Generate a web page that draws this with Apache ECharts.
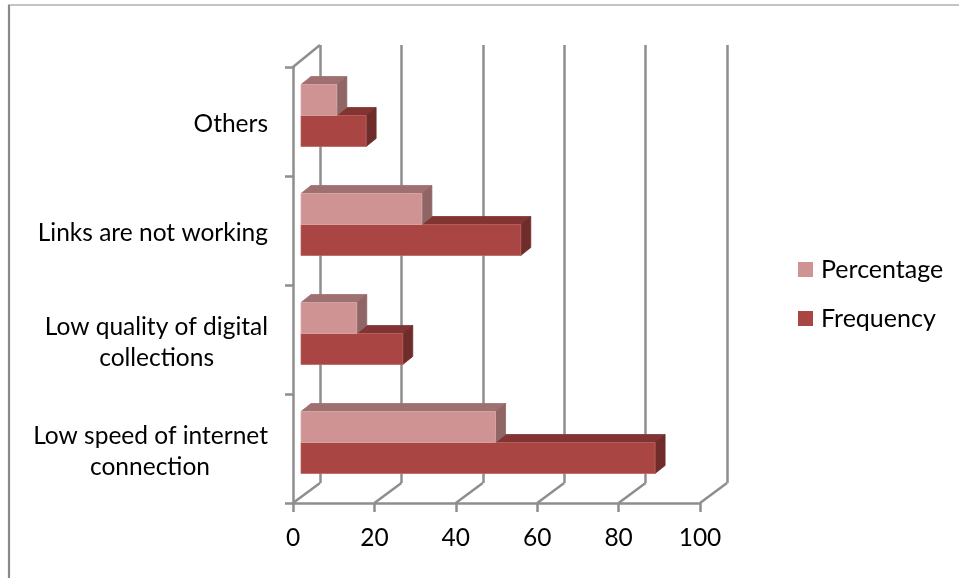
<!DOCTYPE html>
<html>
<head>
<meta charset="utf-8">
<style>html,body{margin:0;padding:0;background:#fff}#c{width:959px;height:578px}</style>
<script src="https://cdn.jsdelivr.net/npm/echarts@6/dist/echarts.min.js"></script>
</head>
<body>
<div id="c"></div>
<script>
const categories = ['Low speed of internet connection', 'Low quality of digital collections', 'Links are not working', 'Others'];
const frequency = [87, 25, 54, 16];
const percentage = [47.8, 13.7, 29.7, 8.8];
const xTicks = [0, 20, 40, 60, 80, 100];

const FONT = 'Lato, "Open Sans", sans-serif';
const AXIS = '#8e8e8e';
const LW = 2.5;
const LABEL = 24.5;
const shades = {
  Frequency: { front: '#A94542', top: '#813432', side: '#6E2C2A', edge: '#B86563' },
  Percentage: { front: '#D09393', top: '#9F7070', side: '#8F6665', edge: '#DAABAB' }
};

function barItem(name, dir) {
  return function (params, api) {
    const p = api.coord([api.value(0), api.value(1)]);
    const o = api.coord([0, api.value(1)]);
    const s = shades[name];
    const h = 31, sx = 8, sy = -6, dx = 10, dy = -8;
    const x0 = o[0] + sx, x1 = p[0] + sx;
    const yc = p[1] + sy;
    const yt = dir < 0 ? yc - h : yc;
    const yb = yt + h;
    const poly = (pts, fill, stroke) => ({
      type: 'polygon', shape: { points: pts },
      style: { fill: fill, stroke: stroke || fill, lineWidth: 0.8 }
    });
    return {
      type: 'group',
      children: [
        poly([[x0, yt], [x0 + dx, yt + dy], [x1 + dx, yt + dy], [x1, yt]], s.top),
        poly([[x1, yt], [x1 + dx, yt + dy], [x1 + dx, yb + dy], [x1, yb]], s.side),
        poly([[x0, yt], [x1, yt], [x1, yb], [x0, yb]], s.front, s.edge)
      ]
    };
  };
}

function depthItem(params, api) {
  const v = api.value(0);
  const bottom = params.coordSys.y + params.coordSys.height;
  const x = api.coord([v, 0])[0];
  const line = (x1, y1, x2, y2) => ({
    type: 'line', shape: { x1, y1, x2, y2 },
    style: { stroke: AXIS, lineWidth: LW }
  });
  const children = [line(x, bottom, x + 27, bottom - 20)];
  if (v === 0) children.push(line(x, params.coordSys.y, x + 27, params.coordSys.y - 22));
  return { type: 'group', children };
}

const labelLines = {
  'Low speed of internet connection': ['Low speed of internet', 'connection', 'p58'],
  'Low quality of digital collections': ['Low quality of digital', 'collections', 'p54']
};

const chart = echarts.init(document.getElementById('c'), null, { renderer: 'canvas' });
chart.setOption({
  animation: false,
  backgroundColor: '#fff',
  textStyle: { fontFamily: FONT },
  graphic: [
    { type: 'line', shape: { x1: 8, y1: 5, x2: 959, y2: 5 }, style: { stroke: '#8a8a8a', lineWidth: 1.2 } },
    { type: 'line', shape: { x1: 9, y1: 5, x2: 9, y2: 578 }, style: { stroke: '#8a8a8a', lineWidth: 2.2 } }
  ],
  grid: [
    { left: 293, top: 67, width: 407, height: 436 },
    { left: 320, top: 45, width: 407, height: 438 }
  ],
  xAxis: [
    {
      type: 'value', gridIndex: 0, min: 0, max: 100, interval: 20,
      axisLine: { show: true, lineStyle: { color: AXIS, width: LW } },
      axisTick: { show: true, length: 9, lineStyle: { color: AXIS, width: LW } },
      axisLabel: { color: '#000', fontSize: 24.5, fontFamily: FONT, margin: 23 },
      splitLine: { show: false }
    },
    {
      type: 'value', gridIndex: 1, min: 0, max: 100, interval: 20,
      axisLine: { show: false }, axisTick: { show: false }, axisLabel: { show: false },
      splitLine: { show: true, lineStyle: { color: AXIS, width: LW } }
    }
  ],
  yAxis: [
    {
      type: 'category', gridIndex: 0, data: categories,
      axisLine: { show: true, onZero: false, lineStyle: { color: AXIS, width: LW } },
      axisTick: { show: true, length: 8, lineStyle: { color: AXIS, width: LW } },
      axisLabel: {
        color: '#000', fontSize: LABEL, fontFamily: FONT, margin: 25, lineHeight: 31, interval: 0,
        padding: [6, 0, 0, 0],
        formatter: function (v) {
          const l = labelLines[v];
          return l ? '{a|' + l[0] + '}\n{' + l[2] + '|' + l[1] + '}' : v;
        },
        rich: {
          a: { fontSize: LABEL, fontFamily: FONT, color: '#000', lineHeight: 31 },
          p54: { fontSize: LABEL, fontFamily: FONT, color: '#000', lineHeight: 31, padding: [0, 54, 0, 0] },
          p58: { fontSize: LABEL, fontFamily: FONT, color: '#000', lineHeight: 31, padding: [0, 58, 0, 0] }
        }
      }
    },
    {
      type: 'category', gridIndex: 1, data: categories,
      axisLine: { show: false }, axisTick: { show: false }, axisLabel: { show: false }
    }
  ],
  legend: {
    orient: 'vertical', left: 793, top: 252, itemWidth: 15, itemHeight: 15, itemGap: 24,
    icon: 'rect', data: ['Percentage', 'Frequency'],
    textStyle: { color: '#000', fontSize: 25, fontFamily: FONT, padding: [0, 0, 0, 3] }
  },
  series: [
    {
      type: 'custom', name: 'depth', xAxisIndex: 0, yAxisIndex: 0, silent: true, z: 1,
      renderItem: depthItem, encode: { x: 0 },
      data: xTicks.map(v => [v])
    },
    {
      type: 'custom', name: 'Frequency', xAxisIndex: 0, yAxisIndex: 0, z: 3,
      itemStyle: { color: shades.Frequency.front },
      renderItem: barItem('Frequency', 1), encode: { x: 0, y: 1 },
      data: frequency.map((v, i) => [v, i])
    },
    {
      type: 'custom', name: 'Percentage', xAxisIndex: 0, yAxisIndex: 0, z: 4,
      itemStyle: { color: shades.Percentage.front },
      renderItem: barItem('Percentage', -1), encode: { x: 0, y: 1 },
      data: percentage.map((v, i) => [v, i])
    }
  ]
});
</script>
</body>
</html>
